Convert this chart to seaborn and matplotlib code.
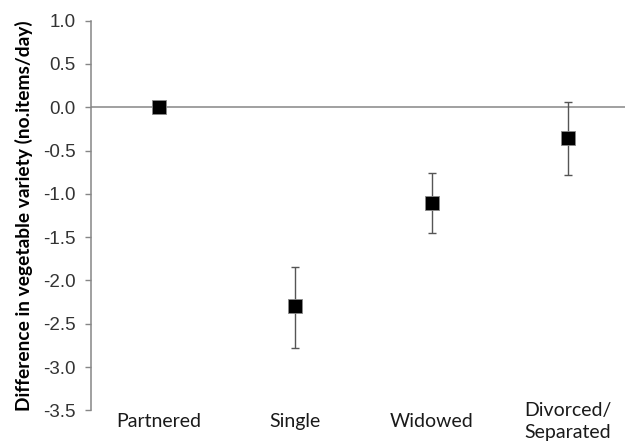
import matplotlib
matplotlib.use("Agg")
import matplotlib.pyplot as plt
import seaborn as sns
import pandas as pd
import numpy as np

# values
groups = ["Partnered", "Single", "Widowed", "Divorced/\nSeparated"]
diff = [0.0, -2.30, -1.10, -0.35]
ci_low = [0.0, -2.78, -1.45, -0.78]
ci_high = [0.0, -1.84, -0.76, 0.06]
has_err = [False, True, True, True]

df = pd.DataFrame({"group": groups, "diff": diff, "low": ci_low, "high": ci_high, "err": has_err})
df["pos"] = np.arange(len(df))

sns.set_style("white")
fig = plt.figure(figsize=(6.25, 4.43), dpi=100)
ax = fig.add_axes([0.1456, 0.0736, 0.8544, 0.8797])

# zero line (category axis crosses here)
ax.axhline(0, color="#868686", lw=1.1, zorder=1)

# error bars (asymmetric)
e = df[df["err"]]
ax.errorbar(e["pos"], e["diff"], yerr=[e["diff"] - e["low"], e["high"] - e["diff"]],
            fmt="none", ecolor="#555555", elinewidth=1.0, capsize=3, capthick=1.0, zorder=2)

sns.scatterplot(data=df, x="pos", y="diff", marker="s", s=95, color="black",
                edgecolor="#8a8a8a", linewidth=0.6, ax=ax, zorder=3, legend=False)

ax.set_xlim(-0.5, 3.42)
ax.set_ylim(-3.5, 1.0)
ax.set_yticks(np.arange(-3.5, 1.01, 0.5))
ax.set_yticklabels([f"{v:.1f}" for v in np.arange(-3.5, 1.01, 0.5)],
                   fontfamily="Liberation Sans", fontsize=13.5, color="#333333")
ax.set_xticks(df["pos"])
ax.set_xticklabels(df["group"], fontfamily="Lato", fontsize=14, color="#1a1a1a",
                   linespacing=1.3)
for lbl in ax.get_xticklabels():
    lbl.set_verticalalignment("center")
ax.tick_params(axis="x", length=0, pad=8)
ax.tick_params(axis="y", direction="out", length=4, width=1, color="#868686", pad=7, left=True)

for s in ["top", "right", "bottom"]:
    ax.spines[s].set_visible(False)
ax.spines["left"].set_color("#868686")
ax.spines["left"].set_linewidth(1.1)

ax.set_xlabel("")
ax.set_ylabel("Difference in vegetable variety (no.items/day)", fontfamily="Lato",
              fontweight="bold", fontsize=13.8, color="black", labelpad=7)

fig.savefig("out.png", dpi=100)
